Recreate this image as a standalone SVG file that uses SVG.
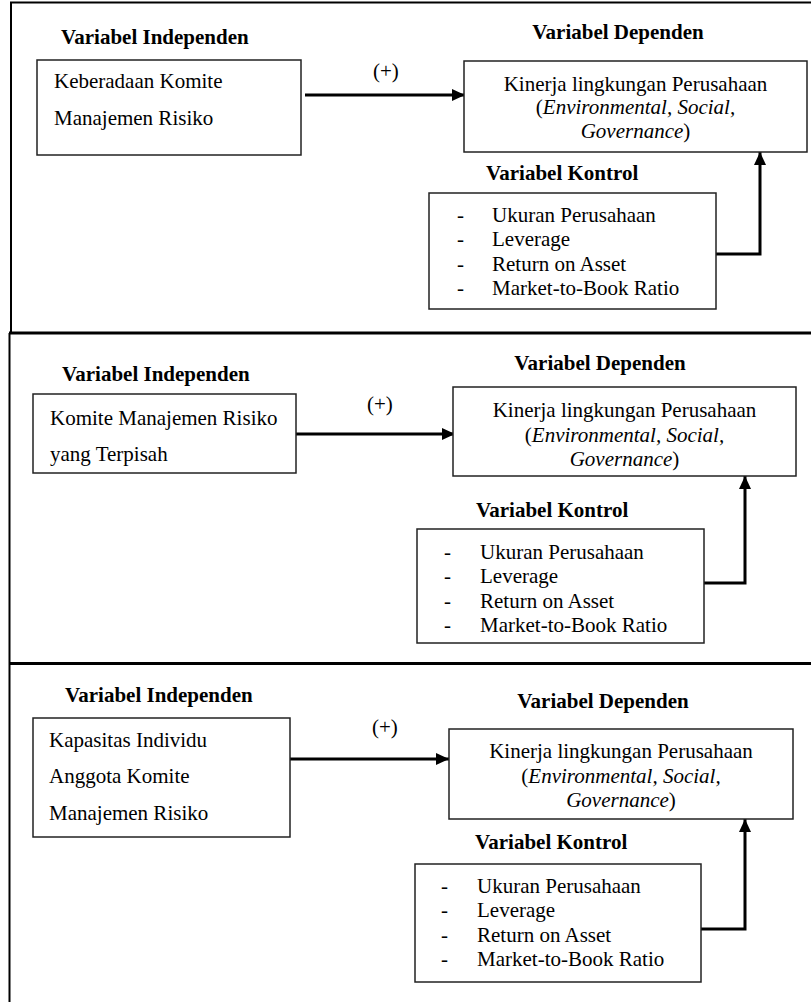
<svg xmlns="http://www.w3.org/2000/svg" width="811" height="1002" viewBox="0 0 811 1002">
<defs>
<style>
text{font-family:'Liberation Serif','Times New Roman',serif;font-size:21px;fill:#000}
.h{font-weight:bold}
.c{text-anchor:middle}
.box{fill:#fff;stroke:#222;stroke-width:1.5}
.frame{fill:none;stroke:#000}
.con{fill:none;stroke:#000;stroke-width:3}
</style>
<marker id="ah" viewBox="0 0 13 12" refX="13" refY="6" markerWidth="13" markerHeight="12" markerUnits="userSpaceOnUse" orient="auto">
<path d="M0,0 L13,6 L0,12 Z" fill="#000"/>
</marker>
</defs>
<rect width="811" height="1002" fill="#fff"/>
<g id="frames">
<path class="frame" stroke-width="2" d="M811,2.5 H11 V333"/>
<path class="frame" stroke-width="3" d="M9,333 H811"/>
<path class="frame" stroke-width="2" d="M9.5,333 V663"/>
<path class="frame" stroke-width="3" d="M9,663.5 H811"/>
<path class="frame" stroke-width="2" d="M9.5,663 V1002"/>
</g>
<g id="connectors">
<path class="con" d="M305,95 H465" marker-end="url(#ah)"/>
<path class="con" d="M716,254 H760 V152" marker-end="url(#ah)"/>
<path class="con" d="M296,434 H455" marker-end="url(#ah)"/>
<path class="con" d="M704,583 H745 V476" marker-end="url(#ah)"/>
<path class="con" d="M290,759 H449" marker-end="url(#ah)"/>
<path class="con" d="M701,929 H745 V819" marker-end="url(#ah)"/>
</g>
<g id="p1-independen">
<text class="h" x="61" y="44">Variabel Independen</text>
<rect class="box" x="37" y="60" width="264" height="95"/>
<text x="54" y="88">Keberadaan Komite</text>
<text x="54" y="125">Manajemen Risiko</text>
</g>
<text id="p1-plus" x="373" y="78">(+)</text>
<g id="p1-dependen">
<text class="h c" x="618" y="39">Variabel Dependen</text>
<rect class="box" x="464" y="61" width="343" height="91"/>
<text class="c" x="635.5" y="91">Kinerja lingkungan Perusahaan</text>
<text class="c" x="635.5" y="114">(<tspan font-style="italic">Environmental, Social,</tspan></text>
<text class="c" x="635.5" y="138"><tspan font-style="italic">Governance</tspan>)</text>
</g>
<g id="p1-kontrol">
<text class="h" x="486" y="180">Variabel Kontrol</text>
<rect class="box" x="429" y="193" width="287" height="116"/>
<text x="457" y="222">-</text><text x="492" y="222">Ukuran Perusahaan</text>
<text x="457" y="246">-</text><text x="492" y="246">Leverage</text>
<text x="457" y="271">-</text><text x="492" y="271">Return on Asset</text>
<text x="457" y="295">-</text><text x="492" y="295">Market-to-Book Ratio</text>
</g>
<g id="p2-independen">
<text class="h" x="62" y="381">Variabel Independen</text>
<rect class="box" x="33" y="394" width="263" height="79"/>
<text x="50" y="425">Komite Manajemen Risiko</text>
<text x="50" y="461">yang Terpisah</text>
</g>
<text id="p2-plus" x="367" y="411">(+)</text>
<g id="p2-dependen">
<text class="h c" x="600" y="370">Variabel Dependen</text>
<rect class="box" x="453" y="387" width="343" height="89"/>
<text class="c" x="624.5" y="417">Kinerja lingkungan Perusahaan</text>
<text class="c" x="624.5" y="442">(<tspan font-style="italic">Environmental, Social,</tspan></text>
<text class="c" x="624.5" y="466"><tspan font-style="italic">Governance</tspan>)</text>
</g>
<g id="p2-kontrol">
<text class="h" x="476" y="517">Variabel Kontrol</text>
<rect class="box" x="417" y="529" width="287" height="114"/>
<text x="444" y="559">-</text><text x="480" y="559">Ukuran Perusahaan</text>
<text x="444" y="583">-</text><text x="480" y="583">Leverage</text>
<text x="444" y="608">-</text><text x="480" y="608">Return on Asset</text>
<text x="444" y="632">-</text><text x="480" y="632">Market-to-Book Ratio</text>
</g>
<g id="p3-independen">
<text class="h" x="65" y="702">Variabel Independen</text>
<rect class="box" x="33" y="718" width="257" height="119"/>
<text x="49" y="747">Kapasitas Individu</text>
<text x="49" y="783">Anggota Komite</text>
<text x="49" y="820">Manajemen Risiko</text>
</g>
<text id="p3-plus" x="372" y="734">(+)</text>
<g id="p3-dependen">
<text class="h c" x="603" y="708">Variabel Dependen</text>
<rect class="box" x="449" y="729" width="344" height="90"/>
<text class="c" x="621" y="758">Kinerja lingkungan Perusahaan</text>
<text class="c" x="621" y="783">(<tspan font-style="italic">Environmental, Social,</tspan></text>
<text class="c" x="621" y="807"><tspan font-style="italic">Governance</tspan>)</text>
</g>
<g id="p3-kontrol">
<text class="h" x="475" y="849">Variabel Kontrol</text>
<rect class="box" x="415" y="864" width="286" height="118"/>
<text x="441" y="893">-</text><text x="477" y="893">Ukuran Perusahaan</text>
<text x="441" y="917">-</text><text x="477" y="917">Leverage</text>
<text x="441" y="942">-</text><text x="477" y="942">Return on Asset</text>
<text x="441" y="966">-</text><text x="477" y="966">Market-to-Book Ratio</text>
</g>
</svg>
